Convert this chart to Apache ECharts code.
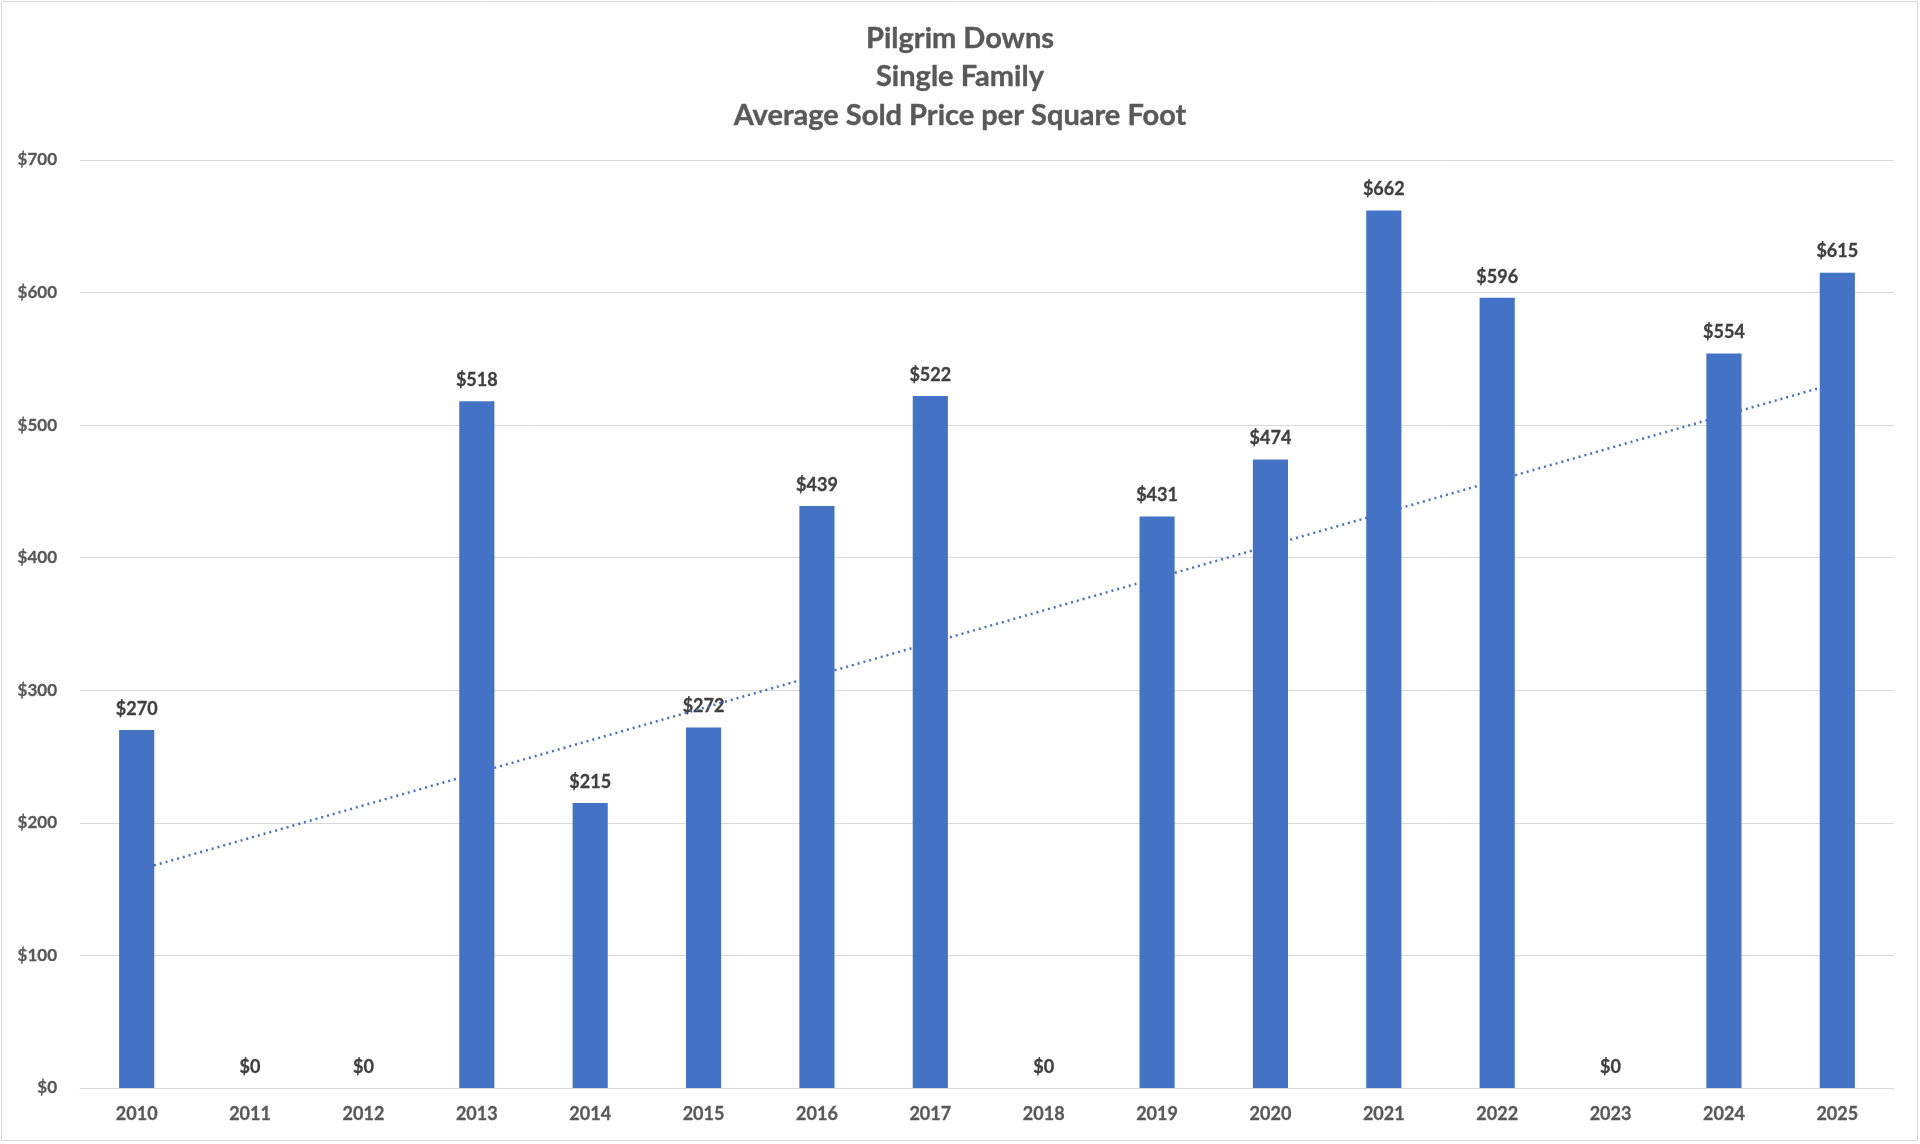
<!DOCTYPE html>
<html>
<head>
<meta charset="utf-8">
<script src="https://cdn.jsdelivr.net/npm/echarts@6/dist/echarts.min.js"></script>
<style>
html,body{margin:0;padding:0;background:#fff;}
#chart{width:1920px;height:1144px;}
</style>
</head>
<body>
<div id="chart"></div>
<script>
const titleLines = ["Pilgrim Downs", "Single Family", "Average Sold Price per Square Foot"];
const years = ["2010","2011","2012","2013","2014","2015","2016","2017","2018","2019","2020","2021","2022","2023","2024","2025"];
const pricePerSqFt = [270, 0, 0, 518, 215, 272, 439, 522, 0, 431, 474, 662, 596, 0, 554, 615];
const yTicks = [0, 100, 200, 300, 400, 500, 600, 700];

// Linear trendline (least squares) computed from the data
const n = pricePerSqFt.length;
let sx = 0, sy = 0, sxy = 0, sxx = 0;
pricePerSqFt.forEach((v, i) => { const x = i + 1; sx += x; sy += v; sxy += x * v; sxx += x * x; });
const slope = (n * sxy - sx * sy) / (n * sxx - sx * sx);
const intercept = (sy - slope * sx) / n;
const trend = pricePerSqFt.map((v, i) => +(intercept + slope * (i + 1)).toFixed(2));

const FONT = "Lato";
const chart = echarts.init(document.getElementById('chart'), null, {renderer: 'canvas'});
chart.setOption({
  backgroundColor: '#ffffff',
  animation: false,
  title: {
    text: titleLines.join('\n'),
    left: 'center',
    top: 14,
    textStyle: {fontFamily: FONT, fontWeight: 'bold', fontSize: 29, color: '#595959', lineHeight: 38.5,
      textBorderColor: '#595959', textBorderWidth: 0.4}
  },
  graphic: [{
    type: 'rect', shape: {x: 1.5, y: 1.5, width: 1916, height: 1139},
    style: {fill: 'none', stroke: '#d9d9d9', lineWidth: 1}, silent: true
  }],
  grid: {left: 80, right: 26, top: 160, bottom: 56, containLabel: false},
  xAxis: {
    type: 'category',
    data: years,
    axisLine: {show: true, lineStyle: {color: '#d9d9d9', width: 1}},
    axisTick: {show: false},
    axisLabel: {fontFamily: FONT, fontWeight: 'bold', fontSize: 18, color: '#595959', margin: 17,
      textBorderColor: '#595959', textBorderWidth: 0.3}
  },
  yAxis: {
    type: 'value',
    min: yTicks[0], max: yTicks[yTicks.length - 1], interval: 100,
    axisLine: {show: false},
    axisTick: {show: false},
    splitLine: {lineStyle: {color: '#d9d9d9', width: 1}},
    axisLabel: {fontFamily: FONT, fontWeight: 'bold', fontSize: 17, color: '#595959', margin: 23,
      textBorderColor: '#595959', textBorderWidth: 0.3,
      formatter: v => '$' + v}
  },
  series: [{
    type: 'bar',
    data: pricePerSqFt,
    barWidth: '31%',
    itemStyle: {color: '#4472C4'},
    label: {show: true, position: 'top', distance: 12, formatter: p => '$' + p.value,
      fontFamily: FONT, fontWeight: 'bold', fontSize: 18, color: '#404040',
      textBorderColor: '#404040', textBorderWidth: 0.3},
    z: 2
  }, {
    type: 'line',
    data: trend,
    symbol: 'none',
    lineStyle: {color: '#4472C4', width: 2.5, type: [2, 4]},
    z: 3,
    silent: true
  }]
});
</script>
</body>
</html>
